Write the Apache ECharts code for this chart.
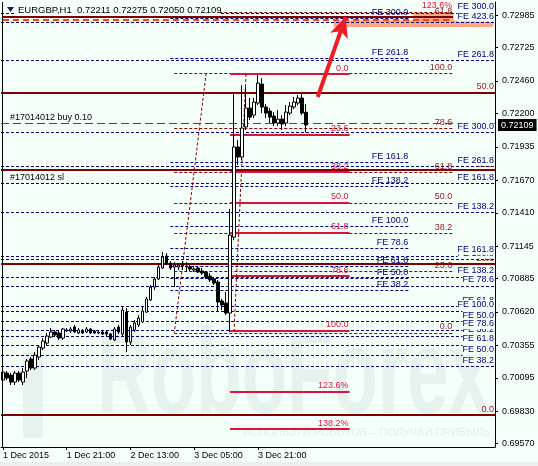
<!DOCTYPE html>
<html><head><meta charset="utf-8">
<script src="https://cdn.jsdelivr.net/npm/echarts@6/dist/echarts.min.js"></script>
<style>html,body{margin:0;padding:0;background:#F5FFFA}#c{width:538px;height:466px}</style>
</head><body><div id="c"></div><script>
// ---------- data ----------
const xTickIndex = [0, 16, 32, 48, 64];
const xTickLabels = ['1 Dec 2015', '1 Dec 21:00', '2 Dec 13:00', '3 Dec 05:00', '3 Dec 21:00'];
const yTicks = [0.72985, 0.72725, 0.72460, 0.72200, 0.71935, 0.71670, 0.71410, 0.71145, 0.70885, 0.70620, 0.70355, 0.70095, 0.69830, 0.69570];
const yMin = 0.69544, yMax = 0.73089;
const slotCount = 124;

const candleOpen = [0.70077,0.70133,0.70117,0.70061,0.70133,0.70061,0.70149,0.70245,0.70173,0.70261,
0.70332,0.70372,0.70420,0.70460,0.70452,0.70412,0.70468,0.70468,0.70500,0.70452,
0.70468,0.70460,0.70484,0.70468,0.70452,0.70460,0.70460,0.70444,0.70396,0.70500,
0.70444,0.70619,0.70380,0.70476,0.70516,0.70540,0.70619,0.70715,0.70818,0.70882,
0.70970,0.71065,0.71009,0.70978,0.70978,0.70986,0.70986,0.70978,0.70954,0.70970,
0.70946,0.70938,0.70906,0.70882,0.70858,0.70707,0.70691,0.70611,0.71216,0.71934,
0.71854,0.72093,0.72244,0.72188,0.72284,0.72435,0.72252,0.72220,0.72180,0.72125,
0.72156,0.72125,0.72204,0.72252,0.72284,0.72324,0.72211];
const candleClose = [0.70141,0.70093,0.70061,0.70133,0.70077,0.70141,0.70229,0.70173,0.70276,0.70340,
0.70388,0.70428,0.70460,0.70436,0.70412,0.70484,0.70476,0.70484,0.70460,0.70476,
0.70452,0.70484,0.70452,0.70452,0.70460,0.70444,0.70444,0.70404,0.70484,0.70460,
0.70635,0.70380,0.70500,0.70532,0.70571,0.70627,0.70723,0.70818,0.70882,0.70978,
0.71057,0.71009,0.70970,0.70994,0.70994,0.70994,0.70978,0.70962,0.70962,0.70938,
0.70930,0.70898,0.70874,0.70850,0.70699,0.70675,0.70611,0.71232,0.71934,0.71854,
0.72085,0.72244,0.72172,0.72292,0.72443,0.72252,0.72204,0.72172,0.72125,0.72156,
0.72117,0.72212,0.72260,0.72292,0.72324,0.72204,0.72109];
const candleLow = [0.70061,0.70077,0.70038,0.70038,0.70061,0.70038,0.70093,0.70157,0.70157,0.70237,
0.70316,0.70356,0.70412,0.70420,0.70396,0.70396,0.70460,0.70452,0.70452,0.70444,
0.70444,0.70452,0.70444,0.70444,0.70444,0.70436,0.70428,0.70396,0.70388,0.70444,
0.70428,0.70300,0.70356,0.70460,0.70500,0.70532,0.70611,0.70707,0.70794,0.70874,
0.70962,0.70994,0.70954,0.70818,0.70954,0.70954,0.70938,0.70946,0.70938,0.70930,
0.70914,0.70882,0.70858,0.70834,0.70619,0.70635,0.70595,0.70460,0.71192,0.71790,
0.71830,0.72069,0.72148,0.72164,0.72268,0.72204,0.72164,0.72125,0.72101,0.72101,
0.72069,0.72101,0.72188,0.72236,0.72268,0.72188,0.72050];
const candleHigh = [0.70157,0.70149,0.70133,0.70149,0.70149,0.70173,0.70245,0.70261,0.70300,0.70356,
0.70412,0.70452,0.70492,0.70476,0.70468,0.70492,0.70492,0.70500,0.70516,0.70492,
0.70484,0.70500,0.70492,0.70476,0.70476,0.70468,0.70468,0.70452,0.70500,0.70516,
0.70667,0.70651,0.70516,0.70555,0.70595,0.70659,0.70739,0.70834,0.70898,0.70994,
0.71097,0.71089,0.71025,0.71017,0.71009,0.71025,0.71017,0.70994,0.70986,0.70986,
0.70970,0.70946,0.70930,0.70898,0.70874,0.70723,0.70778,0.71440,0.72372,0.71989,
0.72427,0.72411,0.72324,0.72324,0.72507,0.72483,0.72276,0.72244,0.72212,0.72228,
0.72188,0.72268,0.72292,0.72332,0.72348,0.72364,0.72275];
const lastPrice = 0.72109;
const titleText = 'EURGBP,H1  0.72211 0.72275 0.72050 0.72109';

// big Fibonacci retracement (solid dark red, full width)
const fibBigLabels = ['0.0', '23.6', '38.2', '50.0'];
const fibBigValues = [0.69797, 0.71001, 0.71750, 0.72364];
const fibBigTopLabel = '61.8';
const fibBigTopValue = 0.72969;
// dashed Fibonacci retracement
const fibDashLabels = ['0.0', '23.6', '38.2', '50.0', '61.8', '78.6', '100.0', '123.6%'];
const fibDashValues = [0.70454, 0.70942, 0.71244, 0.71489, 0.71733, 0.72080, 0.72523, 0.73011];
const fibDashAnchor = [[50.5, 0.72523], [43.3, 0.70454]];
// crimson Fibonacci retracement
const fibRedLabels = ['0.0', '23.6', '38.2', '50.0', '61.8', '78.6', '100.0', '123.6%', '138.2%'];
const fibRedValues = [0.72515, 0.72032, 0.71733, 0.71492, 0.71250, 0.70906, 0.70468, 0.69985, 0.69686];
const fibRedAnchor = [[60.5, 0.72515], [57.5, 0.70468]];
// Fibonacci expansions
const feALabels = ['FE 38.2', 'FE 50.0', 'FE 61.8', 'FE 78.6', 'FE 100.0', 'FE 138.2', 'FE 161.8', 'FE 261.8', 'FE 300.0', 'FE 423.6'];
const feAValues = [0.70189, 0.70273, 0.70357, 0.70476, 0.70628, 0.70899, 0.71067, 0.71777, 0.72048, 0.72925];
const feCLabels = ['FE 38.2', 'FE 50.0', 'FE 61.8', 'FE 78.6', 'FE 100.0', 'FE 138.2', 'FE 161.8', 'FE 261.8', 'FE 300.0'];
const feCValues = [0.70430, 0.70546, 0.70662, 0.70827, 0.71037, 0.71412, 0.71644, 0.72626, 0.73002];
const feBLabels = ['FE 38.2', 'FE 50.0', 'FE 61.8', 'FE 78.6', 'FE 100.0', 'FE 138.2', 'FE 161.8', 'FE 261.8', 'FE 300.0'];
const feBValues = [0.70789, 0.70887, 0.70985, 0.71124, 0.71302, 0.71618, 0.71814, 0.72642, 0.72959];
// order lines
const orderBuyValue = 0.72122, orderBuyLabel = '#17014012 buy 0.10';
const orderSlValue = 0.71750, orderSlLabel = '#17014012 sl';
const targetLineValue = 0.72945;
const targetZone = [[83, 0.72941], [123, 0.72890]];
const targetZone2 = [[103, 0.73001], [113, 0.72937]];
const arrowFrom = [79, 0.72332], arrowTo = [86, 0.72969];

// ---------- build ----------
const categories = [];
for (let i = 0; i < slotCount; i++) {
  const d = new Date(Date.UTC(2015, 11, 1, 5 + i));
  categories.push(d.getUTCDate() + ' Dec ' + String(d.getUTCHours()).padStart(2, '0') + ':00');
}
const candles = candleOpen.map((o, i) => [o, candleClose[i], candleLow[i], candleHigh[i]]);

const FONT = 'Liberation Sans';
const BG = '#F5FFFA';
const NAVY = '#000080';
const BROWN = '#8B1A1A';
const CRIMSON = '#DC143C';
const NOLINE = {color: 'rgba(0,0,0,0)', width: 1, type: 'solid'};

function lbl(extra) {
  return Object.assign({show: true, fontFamily: FONT, fontSize: 9, lineHeight: 10, padding: 0,
    position: 'insideEndTop', distance: 1, formatter: p => p.name}, extra);
}
function mlFull(values, labels, lineStyle, label) {
  return {symbol: 'none', silent: true, animation: false, precision: 6, lineStyle, label,
    data: values.map((v, k) => ({yAxis: v, name: labels[k]}))};
}
function mlPart(values, labels, i0, i1, lineStyle, label) {
  return {symbol: 'none', silent: true, animation: false, precision: 6, lineStyle, label,
    data: values.map((v, k) => [{coord: [i0, v], name: labels[k]}, {coord: [i1, v]}])};
}
const dashed = [3, 2];

const series = [
  { // target zone
    type: 'line', data: [], silent: true, z: 1,
    markArea: {silent: true, itemStyle: {color: '#FFA886'},
      data: [[{coord: targetZone[0]}, {coord: targetZone[1]}],
             [{coord: targetZone2[0]}, {coord: targetZone2[1]}]]}
  },
  { // big fib
    type: 'line', data: [], z: 2,
    markLine: (() => {
      const m = mlFull(fibBigValues, fibBigLabels, {color: '#800000', width: 2, type: 'solid'},
        lbl({color: BROWN}));
      m.data.push([{coord: [0, fibBigTopValue], name: fibBigTopLabel}, {coord: [113, fibBigTopValue]}]);
      return m;
    })()
  },
  { type: 'line', data: [], z: 3,
    markLine: mlFull(feCValues, feCLabels, {color: NAVY, width: 1, type: dashed},
      lbl({color: NAVY, backgroundColor: BG})) },
  { type: 'line', data: [], z: 3,
    markLine: mlFull(feAValues, feALabels, {color: NAVY, width: 1, type: dashed},
      lbl({color: NAVY, backgroundColor: BG})) },
  { type: 'line', data: [], z: 3,
    markLine: mlPart(feBValues, feBLabels, 42, 102, {color: NAVY, width: 1, type: dashed},
      lbl({color: NAVY})) },
  { type: 'line', data: [], z: 4,
    markLine: (() => {
      const m = mlPart(fibDashValues, fibDashLabels, 43, 113, {color: '#8B0000', width: 1, type: dashed},
        lbl({color: BROWN}));
      m.data[m.data.length - 1][0].label = {color: CRIMSON};
      m.data.push([{coord: fibDashAnchor[0], name: ''}, {coord: fibDashAnchor[1]}]);
      return m;
    })() },
  { type: 'line', data: [], z: 5,
    markLine: (() => {
      const m = mlPart(fibRedValues, fibRedLabels, 57, 87, {color: CRIMSON, width: 2, type: 'solid'},
        lbl({color: CRIMSON}));
      m.data.push([{coord: fibRedAnchor[0], name: '', lineStyle: {color: '#8B0000', width: 1, type: dashed}},
                   {coord: fibRedAnchor[1]}]);
      return m;
    })() },
  { type: 'line', data: [], z: 5,
    markLine: {symbol: 'none', silent: true, animation: false, precision: 6,
      data: [
        [{coord: [0, targetLineValue], name: '', lineStyle: {color: '#FF4500', width: 2, type: [6, 4]}},
         {coord: [113, targetLineValue]}],
        {yAxis: orderBuyValue, name: orderBuyLabel, lineStyle: {color: '#008000', width: 1, type: [8, 4]},
          label: lbl({color: '#000', position: 'insideStartTop', padding: [0, 0, 0, 8]})},
        {yAxis: orderSlValue, name: orderSlLabel, lineStyle: NOLINE,
          label: lbl({color: '#000', position: 'insideStartBottom', padding: [1, 0, 0, 8]})}
      ]} },
  {
    type: 'candlestick', data: candles, z: 6, barWidth: 3,
    itemStyle: {color: '#FFFFFF', color0: '#000000', borderColor: '#000000', borderColor0: '#000000', borderWidth: 1},
    markLine: {symbol: 'none', silent: true, animation: false, precision: 6,
      data: [{yAxis: lastPrice, lineStyle: NOLINE,
        label: {show: true, position: 'end', distance: 3, formatter: lastPrice.toFixed(5),
          backgroundColor: '#000', color: '#fff', fontFamily: FONT, fontSize: 9, padding: [2, 3, 1, 3]}}]}
  },
  { type: 'line', data: [], z: 7,
    markLine: {silent: true, animation: false, symbol: ['none', 'arrow'], symbolSize: [14, 20], precision: 6,
      lineStyle: {color: '#EE1C25', width: 4, type: 'solid'}, label: {show: false},
      data: [[{coord: arrowFrom}, {coord: arrowTo}]]} }
];

const chart = echarts.init(document.getElementById('c'), null, {renderer: 'canvas'});
chart.setOption({
  animation: false,
  backgroundColor: BG,
  grid: {left: 1, right: 43, top: 2, bottom: 19},
  xAxis: {
    type: 'category', data: categories, boundaryGap: true,
    axisLine: {show: true, lineStyle: {color: '#000', width: 1}},
    axisTick: {show: true, alignWithLabel: true, length: 3, interval: i => xTickIndex.includes(i), lineStyle: {color: '#000'}},
    axisLabel: {show: true, interval: i => xTickIndex.includes(i), align: 'left', margin: 4,
      fontFamily: FONT, fontSize: 9, color: '#000',
      formatter: (v, i) => { const k = xTickIndex.indexOf(i); return k >= 0 ? xTickLabels[k] : ''; }},
    splitLine: {show: false}
  },
  yAxis: {
    type: 'value', position: 'right', min: yMin, max: yMax, scale: true,
    axisLine: {show: true, lineStyle: {color: '#000', width: 1}},
    axisTick: {show: true, length: 3, customValues: yTicks, lineStyle: {color: '#000'}},
    axisLabel: {show: true, customValues: yTicks, margin: 7, fontFamily: FONT, fontSize: 9, color: '#000',
      formatter: v => v.toFixed(5)},
    splitLine: {show: false}
  },
  series,
  graphic: [
    {type: 'text', z: -5, silent: true, x: 97, y: 440, scaleX: 0.615,
      style: {text: 'RoboForex', font: 'bold 121px "Liberation Sans"', fill: '#E6F2ED', textVerticalAlign: 'bottom'}},
    {type: 'rect', z: -5, silent: true, shape: {x: 23, y: 352, width: 20, height: 86}, style: {fill: '#E6F2ED'}},
    {type: 'text', z: -5, silent: true, x: 490, y: 433,
      style: {text: 'ИСПОЛЬЗУЙ РОБОТОВ – ПОЛУЧАЙ ПРИБЫЛЬ', font: '11px "Liberation Sans"', fill: '#E3EFEB', textAlign: 'right', textVerticalAlign: 'middle'}},
    {type: 'line', z: 50, silent: true, shape: {x1: 2.5, y1: 2, x2: 2.5, y2: 447}, style: {stroke: '#000', lineWidth: 1}},
    {type: 'rect', z: 50, silent: true, shape: {x: 16, y: 4, width: 203, height: 12}, style: {fill: BG}},
    {type: 'text', z: 51, silent: true, x: 18, y: 10,
      style: {text: titleText, font: '9.5px "Liberation Sans"', fill: '#000', textVerticalAlign: 'middle'}},
    {type: 'polygon', z: 51, silent: true, shape: {points: [[7, 7], [14, 7], [10.5, 12]]}, style: {fill: '#1A1A60'}},
    {type: 'rect', z: 50, silent: true, shape: {x: 0, y: 462, width: 538, height: 4}, style: {fill: '#EEEEEE'}}
  ]
});
</script></body></html>
